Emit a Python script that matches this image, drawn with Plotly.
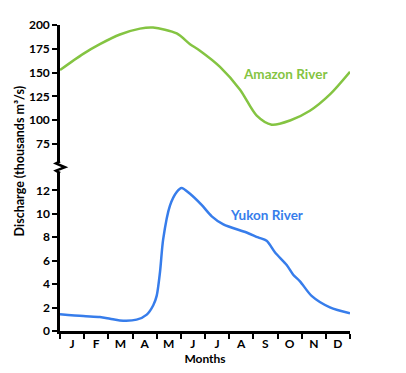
import plotly.graph_objects as go

# ---- data (x in months from start of January; 12 = end of December) ----
amazon_month = [0.0, 0.96, 1.65, 2.48, 3.31, 3.85, 4.83, 5.38, 5.79, 6.62, 7.45, 8.14, 8.76, 9.52, 10.34, 11.17, 12.0]
amazon_flow = [152.6, 169.6, 179.8, 190.0, 196.2, 197.3, 191.1, 179.8, 173.0, 156.0, 132.0, 104.7, 95.2, 99.6, 109.8, 127.0, 150.8]

yukon_month = [0.0, 0.96, 1.65, 2.07, 2.48, 3.17, 3.59, 3.86, 4.0, 4.14, 4.27, 4.55, 4.83, 5.03, 5.38,
               5.86, 6.28, 6.76, 7.72, 8.2, 8.55, 8.9, 9.38, 9.65, 9.93, 10.41, 11.17, 12.0]
yukon_flow = [1.42, 1.27, 1.2, 1.05, 0.9, 0.97, 1.4, 2.2, 3.0, 5.07, 7.84, 10.7, 11.86, 12.2, 11.7,
              10.75, 9.78, 9.09, 8.4, 7.98, 7.7, 6.7, 5.63, 4.8, 4.24, 3.0, 2.02, 1.52]

month_labels = ["J", "F", "M", "A", "M", "J", "J", "A", "S", "O", "N", "D"]
month_centers = [i + 0.5 for i in range(12)]
month_bounds = list(range(13))

amazon_ticks = [75, 100, 125, 150, 175, 200]
yukon_ticks = [0, 2, 4, 6, 8, 10, 12]

GREEN = "rgb(132,196,66)"
BLUE = "rgb(55,125,235)"
FONT = "Lato"

W, H = 406, 373
O = 8  # page body margin offset
# plot area in page pixels: x 60..350, y 17..331
PX0, PX1, PY0, PY1 = 60, 350, 17, 331
L, T = PX0 - O, PY0 - O
R = W - (PX1 - O)
B = H - (PY1 - O)
PW, PH = PX1 - PX0, PY1 - PY0


def px2paper(px, py):
    return (px - PX0) / PW, (PY1 - py) / PH


top_lo = 158
bot_hi = 168

fig = go.Figure()
fig.add_trace(go.Scatter(x=amazon_month, y=amazon_flow, mode="lines", xaxis="x", yaxis="y2",
                         line=dict(color=GREEN, width=2.5, shape="spline", smoothing=0.8),
                         showlegend=False, hoverinfo="skip"))
fig.add_trace(go.Scatter(x=yukon_month, y=yukon_flow, mode="lines", xaxis="x", yaxis="y",
                         line=dict(color=BLUE, width=2.5, shape="spline", smoothing=0.8),
                         showlegend=False, hoverinfo="skip"))

tickfont = dict(family=FONT, size=12, color="black", weight="bold")

fig.update_layout(
    width=W, height=H,
    margin=dict(l=L, r=R, t=T, b=B, pad=0),
    paper_bgcolor="white", plot_bgcolor="white",
    xaxis=dict(range=[0, 12], domain=[0, 1], anchor="y",
               showgrid=False, zeroline=False, showline=True, linecolor="black", linewidth=2.5,
               tickvals=month_centers, ticktext=month_labels, ticks="", tickfont=tickfont,
               minor=dict(tickvals=month_bounds, ticks="outside", ticklen=5, tickwidth=2, tickcolor="black"),
               title=dict(text="Months", font=dict(family=FONT, size=12, color="black", weight="bold"), standoff=2)),
    yaxis=dict(range=[0, (PY1 - bot_hi) / 12.03], domain=[0, (PY1 - bot_hi) / PH], anchor="x",
               showgrid=False, zeroline=False, showline=True, linecolor="black", linewidth=2.5,
               tickvals=yukon_ticks, ticks="outside", ticklen=5, tickwidth=2, tickcolor="black",
               tickfont=tickfont),
    yaxis2=dict(range=[200 - (top_lo - PY0) / 0.976, 200], domain=[(PY1 - top_lo) / PH, 1], anchor="x",
                showgrid=False, zeroline=False, showline=True, linecolor="black", linewidth=2.5,
                tickvals=amazon_ticks, ticks="outside", ticklen=5, tickwidth=2, tickcolor="black",
                tickfont=tickfont),
)

# axis break zigzag
pts = [(60, top_lo - 1), (56, 159), (65, 163), (56, 166.5), (60, bot_hi + 1)]
pp = [px2paper(x, y) for x, y in pts]
path = "M " + " L ".join(f"{x:.4f},{y:.4f}" for x, y in pp)
fig.add_shape(type="path", path=path, xref="paper", yref="paper",
              line=dict(color="black", width=2.5))

# y-axis title spanning both panels
tx, ty = px2paper(19, 157)
fig.add_annotation(x=tx, y=ty, xref="paper", yref="paper", text="Discharge (thousands m³/s)",
                   textangle=-90, showarrow=False, xanchor="center", yanchor="middle",
                   font=dict(family=FONT, size=12.5, color="black", weight="bold"))

# series labels
fig.add_annotation(x=7.5, y=148, xref="x", yref="y2", text="Amazon River", showarrow=False,
                   xanchor="left", font=dict(family=FONT, size=13.5, color=GREEN, weight="bold"))
fig.add_annotation(x=6.95, y=9.9, xref="x", yref="y", text="Yukon River", showarrow=False,
                   xanchor="left", font=dict(family=FONT, size=13.5, color=BLUE, weight="bold"))

fig.write_html("out.html")
